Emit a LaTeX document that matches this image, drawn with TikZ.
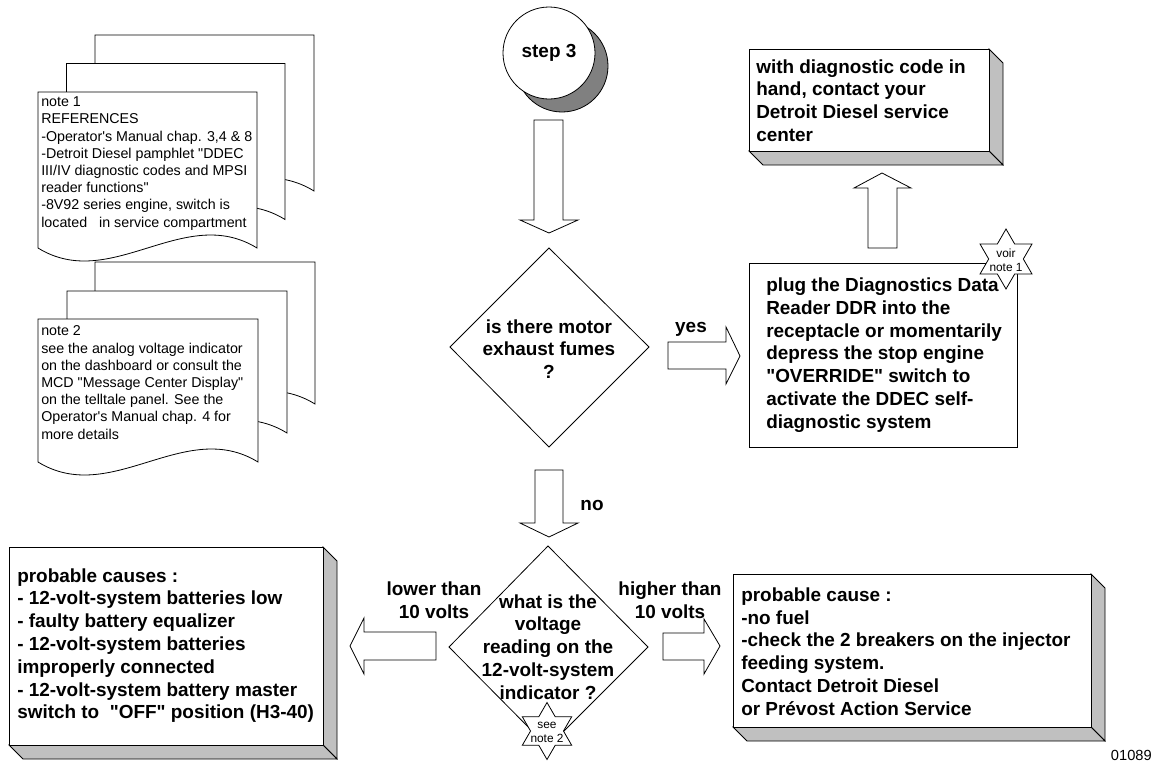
\documentclass[tikz,border=0pt]{standalone}
\usepackage{fontspec}
\setmainfont{Liberation Sans}[Ligatures=TeXOff]
\usetikzlibrary{shapes.geometric}
\definecolor{facegray}{HTML}{C0C0C0}
\definecolor{shadowgray}{HTML}{808080}
\newcommand\docpage[4]{\draw[pageline] (#1,#4) -- (#1,#2) -- (#3,#2) -- (#3,#4) .. controls ({#1+2*(#3-#1)/3},{#4-45}) and ({#1+(#3-#1)/3},{#4+45}) .. (#1,#4) -- cycle;}
\newcommand\extbox[5]{%
  \draw[extface] (#3,#2) -- ({#3+#5},{#2+#5}) -- ({#3+#5},{#4+#5}) -- (#3,#4) -- cycle;
  \draw[extface] (#1,#4) -- (#3,#4) -- ({#3+#5},{#4+#5}) -- ({#1+#5},{#4+#5}) -- cycle;
  \draw[frontface] (#1,#2) rectangle (#3,#4);}
\begin{document}
\begin{tikzpicture}[x=0.75pt,y=-0.75pt,line join=miter,
  pageline/.style={draw=black,fill=white,line width=0.6pt},
  extface/.style={draw=black,fill=facegray,line width=0.6pt},
  frontface/.style={draw=black,fill=white,line width=0.6pt},
  blockarrow/.style={draw=black,fill=white,line width=0.6pt},
  shapeline/.style={draw=black,fill=white,line width=0.6pt},
  boldtxt/.style={inner sep=0pt,font=\fontsize{14.2}{17.1}\selectfont\bfseries},
  notetxt/.style={inner sep=0pt,align=left,anchor=west,font=\fontsize{10.7}{12.9}\selectfont},
  startxt/.style={inner sep=0pt,align=center,font=\fontsize{8.9}{10.5}\selectfont},
  starshape/.style={star,star points=6,star point ratio=1.732,draw=black,fill=white,line width=0.6pt,inner sep=0pt}]
\useasboundingbox (0,0) rectangle (1156,764);

% ---- note 1 stack
\docpage{95}{35}{314}{191}
\docpage{66.5}{63.5}{285}{219.5}
\docpage{38}{92}{257}{248}
\node[notetxt] (note1) at (41,163.5) {note 1\\REFERENCES\\-Operator's Manual chap. 3,4 \& 8\\-Detroit Diesel pamphlet "DDEC\\III/IV diagnostic codes and MPSI\\reader functions"\\-8V92 series engine, switch is\\located~~ in service compartment};

% ---- note 2 stack
\docpage{95}{262}{315}{404}
\docpage{67}{291}{287}{433}
\docpage{38}{319}{258}{462}
\node[notetxt] (note2) at (41,382.5) {note 2\\see the analog voltage indicator\\on the dashboard or consult the\\MCD "Message Center Display"\\on the telltale panel. See the\\Operator's Manual chap. 4 for\\more details};

% ---- step 3
\draw[draw=black,fill=shadowgray,line width=0.6pt] (562,66) circle [radius=46];
\node[circle,draw=black,fill=white,line width=0.6pt,minimum size=69pt,inner sep=0pt,boldtxt] (step) at (549,53) {step 3};

% arrow step -> diamond 1
\draw[blockarrow] (534,120) -- (563,120) -- (563,220) -- (578,220) -- (549,233) -- (520,220) -- (534,220) -- cycle;

% ---- diamond 1
\coordinate (d1) at (549,347);
\draw[shapeline] (549,248) -- (649,347) -- (549,447) -- (450,347) -- cycle;
\node[boldtxt,align=center] (q1) at (549,349) {is there motor\\exhaust fumes\\?};

% yes arrow
\draw[blockarrow] (668,342) -- (726,342) -- (726,327) -- (740,356) -- (726,384) -- (726,369) -- (668,369) -- cycle;
\node[boldtxt] (yes) at (691,329) {yes};

% ---- DDR box
\draw[frontface] (749,263) rectangle (1017,447);
\node[boldtxt,align=left,anchor=west] (ddr) at (766,355) {plug the Diagnostics Data\\Reader DDR into the\\receptacle or momentarily\\depress the stop engine\\"OVERRIDE" switch to\\activate the DDEC self-\\diagnostic system};
\node[starshape,minimum size=45pt] (star1) at (1006,259) {};
\node[startxt] (star1t) at (1006,260) {voir\\note 1};

% up arrow
\draw[blockarrow] (868,248) -- (868,188) -- (854,188) -- (882,173) -- (911,188) -- (897,188) -- (897,248) -- cycle;

% ---- top box
\extbox{749}{49}{989}{151}{14}
\node[boldtxt,align=left,anchor=west] (dealer) at (756,100.5) {with diagnostic code in\\hand, contact your\\Detroit Diesel service\\center};

% no arrow
\draw[blockarrow] (535,470) -- (563,470) -- (563,523) -- (578,523) -- (549,537) -- (520,523) -- (535,523) -- cycle;
\node[boldtxt] (no) at (592,505) {no};

% ---- diamond 2
\draw[shapeline] (548,546) -- (648,647) -- (548,747) -- (449,647) -- cycle;
\node[boldtxt,align=center] (q2) at (548,647) {what is the\\voltage\\reading on the\\12-volt-system\\indicator ?};
\node[starshape,minimum size=42.75pt] (star2) at (547,731) {};
\node[startxt] (star2t) at (547,732.5) {see\\note 2};

% left arrow
\draw[blockarrow] (436,632) -- (364,632) -- (364,618) -- (350,646) -- (364,674) -- (364,660) -- (436,660) -- cycle;
\node[boldtxt,align=center] (lower) at (434,600) {lower than\\10 volts};

% right arrow
\draw[blockarrow] (663,633) -- (704,633) -- (704,619) -- (720,646) -- (704,674) -- (704,660) -- (663,660) -- cycle;
\node[boldtxt,align=center] (higher) at (670,600) {higher than\\10 volts};

% ---- left bottom box
\extbox{9}{547}{323}{745}{14}
\node[boldtxt,align=left,anchor=west] (causes) at (17,645.5) {probable causes :\\- 12-volt-system batteries low\\- faulty battery equalizer\\- 12-volt-system batteries\\improperly connected\\- 12-volt-system battery master\\switch to~ "OFF" position (H3-40)};

% ---- right bottom box
\extbox{733}{574}{1091}{727}{14}
\node[boldtxt,align=left,anchor=west] (cause) at (741,651.5) {probable cause :\\-no fuel\\-check the 2 breakers on the injector\\feeding system.\\Contact Detroit Diesel\\or Prévost Action Service};

\node[inner sep=0pt,anchor=east,font=\fontsize{11}{13}\selectfont] (code) at (1152,755) {01089};
\end{tikzpicture}
\end{document}
